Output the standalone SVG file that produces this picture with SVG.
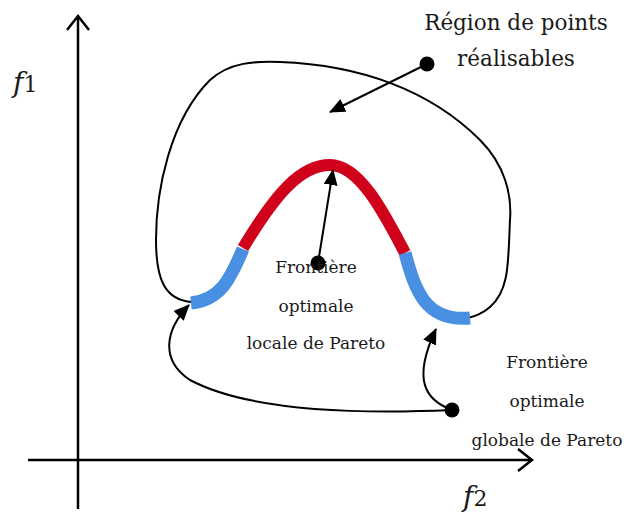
<svg xmlns="http://www.w3.org/2000/svg" width="624" height="515" viewBox="0 0 624 515">
<defs>
<style>
.ax{stroke:#000;stroke-width:2.5;fill:none}
.ln{stroke:#000;stroke-width:2;fill:none}
.t{font-family:"DejaVu Serif","Liberation Serif",serif;fill:#1a1a1a;text-anchor:middle}
.lbl{font-size:17px}
.big{font-size:21.5px}
.var{font-family:"DejaVu Serif","Liberation Serif",serif;font-size:28px;fill:#1a1a1a}
</style>
<marker id="tri" viewBox="0 0 16 14" refX="15" refY="7" markerWidth="16" markerHeight="14" markerUnits="userSpaceOnUse" orient="auto"><path d="M0,0 L16,7 L0,14 Z" fill="#000"/></marker>
</defs>
<g id="axes">
<path class="ax" d="M78,509 V16 M67,30 L78,16 L89,30"/>
<path class="ax" d="M28,460 H532 M518,449 L532,460 L518,471"/>
<text class="var" x="13" y="92"><tspan font-style="italic">f</tspan><tspan font-size="22">1</tspan></text>
<text class="var" x="463" y="506"><tspan font-style="italic">f</tspan><tspan font-size="22">2</tspan></text>
</g>
<g id="region">
<path class="ln" d="M192,302 C165,300 156,280 156,240 C156,190 170,120 210,80 C230,62 255,61 280,62 C360,65 430,90 480,140 C505,165 512,195 510,220 C508,260 510,290 490,307 C482,314 475,316 468,318"/>
</g>
<g id="pareto-local">
<path d="M243,248 C275,195 300,165 330,165 C360,165 385,215 405,253" stroke="#d0021b" stroke-width="12" fill="none"/>
</g>
<g id="pareto-global">
<path d="M243,249 C230,280 220,300 191,303" stroke="#4a90e2" stroke-width="13" fill="none"/>
<path d="M405,253 C415,290 425,322 470,318" stroke="#4a90e2" stroke-width="13" fill="none"/>
</g>
<g id="connectors">
<circle cx="427" cy="64" r="7.5" fill="#000"/>
<path class="ln" d="M427,64 L330,112" marker-end="url(#tri)"/>
<circle cx="318" cy="263" r="7.5" fill="#000"/>
<path class="ln" d="M318,263 L333,170" marker-end="url(#tri)"/>
<circle cx="452" cy="410" r="7.5" fill="#000"/>
<path class="ln" d="M452,410 C360,414 250,412 190,380 C160,360 165,330 189,305" marker-end="url(#tri)"/>
<path class="ln" d="M452,410 C425,400 412,380 436,329" marker-end="url(#tri)"/>
</g>
<g id="labels">
<text class="t big" x="516" y="30">Région de points</text>
<text class="t big" x="516" y="66">réalisables</text>
<text class="t lbl" x="316" y="273">Frontière</text>
<text class="t lbl" x="316" y="312">optimale</text>
<text class="t lbl" x="316" y="349">locale de Pareto</text>
<text class="t lbl" x="547" y="368">Frontière</text>
<text class="t lbl" x="547" y="407">optimale</text>
<text class="t lbl" x="547" y="446">globale de Pareto</text>
</g>
</svg>
